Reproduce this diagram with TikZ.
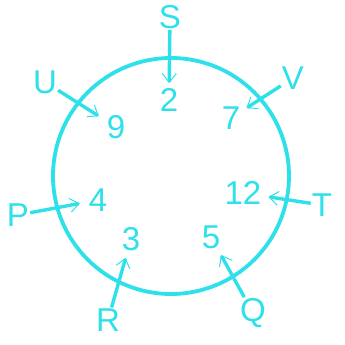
\documentclass[tikz,border=0pt]{standalone}
\usepackage{fontspec}
\setmainfont{Liberation Sans}
\usepackage{xcolor}
\usetikzlibrary{arrows.meta}
\definecolor{ringcyan}{RGB}{45,224,234}

\begin{document}
\begin{tikzpicture}[x=1pt, y=-1pt, >={Straight Barb[length=9pt, width=14pt, line width=1pt]}, every node/.style={font=\fontsize{33}{33}\selectfont, text=ringcyan, inner sep=1pt}]
\useasboundingbox (0,0) rectangle (345,345);
\draw[ringcyan, line width=3.8pt] (171,176) circle[radius=118];
% numbers inside
\node (n2) at (169,100) {2};
\node (n9) at (116,127) {9};
\node (n7) at (231,118) {7};
\node (n4) at (98,200) {4};
\node (n12) at (243,193) {12};
\node (n3) at (131,239) {3};
\node (n5) at (211,237) {5};
% letters outside
\node (S) at (170,17) {S};
\node (U) at (45,82) {U};
\node (V) at (293,78) {V};
\node (P) at (18,215) {P};
\node (T) at (322,205) {T};
\node (R) at (108,320) {R};
\node (Q) at (253,313) {Q};

\draw[->, ringcyan, line width=3.4pt, shorten >=4pt] (S) -- (n2);
\draw[->, ringcyan, line width=3.4pt, shorten >=8pt] (U) -- (n9);
\draw[->, ringcyan, line width=3.4pt, shorten >=6pt] (V) -- (n7);
\draw[->, ringcyan, line width=3.4pt, shorten >=8pt] (P) -- (n4);
\draw[->, ringcyan, line width=3.4pt, shorten >=6pt] (T) -- (n12);
\draw[->, ringcyan, line width=3.4pt, shorten >=6pt] (R) -- (n3);
\draw[->, ringcyan, line width=3.4pt, shorten >=6pt] (Q) -- (n5);
\end{tikzpicture}
\end{document}
